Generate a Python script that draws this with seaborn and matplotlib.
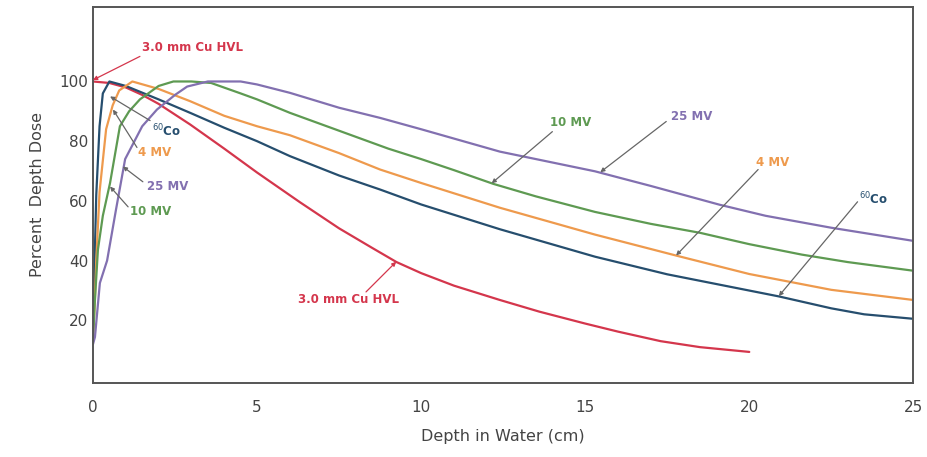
import seaborn as sns
import pandas as pd
import matplotlib.pyplot as plt

# depth (cm) / percent depth dose
depth_hvl = [0, 0.5, 1, 1.5, 2, 2.96, 4, 5, 6.3, 7.5, 8.5, 9.25, 10, 11, 12.4, 13.6, 15, 16, 17.3, 18.5, 20]
pdd_hvl = [100, 99.5, 98, 95.5, 92.5, 85.6, 77.5, 69.5, 59.6, 50.8, 44.3, 39.5, 35.8, 31.6, 26.8, 22.9, 18.9, 16.2, 13, 11, 9.4]

depth_co = [0, 0.05, 0.1, 0.2, 0.3, 0.5, 1, 2, 2.96, 4, 5, 6, 7.5, 8.75, 10, 12.4, 15.3, 17.5, 20.9, 22.5, 23.5, 25]
pdd_co = [18, 40, 62, 85, 96, 100, 98.5, 94, 89.5, 84.5, 80, 75, 68.5, 63.8, 58.8, 50.5, 41.3, 35.4, 28, 24, 22, 20.5]

depth_4mv = [0, 0.05, 0.1, 0.2, 0.4, 0.6, 0.8, 1.2, 2, 2.96, 4, 5, 6, 7.5, 8.75, 10, 12.4, 15.3, 17.8, 20, 22.5, 25]
pdd_4mv = [13, 25, 40, 63, 84, 92, 97, 100, 97.5, 93.4, 88.5, 85, 82, 76, 70.5, 66, 57.7, 48.7, 41.6, 35.5, 30.2, 26.8]

depth_10mv = [0, 0.05, 0.15, 0.3, 0.52, 0.82, 1.1, 1.43, 2, 2.45, 3, 3.6, 4.5, 5, 6, 7.5, 9, 10, 11, 12.2, 13.5, 15.3, 17, 18.5, 20, 21.6, 23, 25]
pdd_10mv = [13, 25, 43.6, 55, 66, 85, 90, 94, 98.5, 100, 100, 99.5, 96, 94, 89.5, 83.5, 77.5, 74, 70.3, 65.7, 61.5, 56.3, 52.3, 49.3, 45.5, 42, 39.5, 36.6]

depth_25mv = [0, 0.06, 0.21, 0.43, 0.7, 0.98, 1.5, 1.95, 2.5, 2.87, 3.5, 4.5, 5, 6, 7.5, 8.75, 10, 12.4, 15.3, 17, 19.1, 20.5, 22.5, 25]
pdd_25mv = [12, 14.4, 32.5, 40, 57, 74, 85, 90.6, 95.5, 98.3, 100, 100, 99, 96.2, 91.2, 87.8, 84, 76.5, 69.9, 65, 58.7, 55, 51, 46.6]

beams = ["3.0 mm Cu HVL", "60Co", "4 MV", "10 MV", "25 MV"]
colors = {
    "3.0 mm Cu HVL": "#d4364c",
    "60Co": "#264e6e",
    "4 MV": "#ee9a4d",
    "10 MV": "#5e9a52",
    "25 MV": "#8270b0",
}

frames = []
for name, d, p in zip(beams,
                      [depth_hvl, depth_co, depth_4mv, depth_10mv, depth_25mv],
                      [pdd_hvl, pdd_co, pdd_4mv, pdd_10mv, pdd_25mv]):
    frames.append(pd.DataFrame({"depth": d, "pdd": p, "beam": name}))
df = pd.concat(frames, ignore_index=True)

sns.set_style("white")
plt.rcParams['font.family'] = ['DejaVu Sans']

fig = plt.figure(figsize=(9.28, 4.57), dpi=100)
ax = fig.add_axes([0.1002, 0.162, 0.884, 0.823])

sns.lineplot(data=df, x="depth", y="pdd", hue="beam", palette=colors,
             sort=False, estimator=None, linewidth=1.6, legend=False, ax=ax)

ax.set_xlim(0, 25)
ax.set_ylim(-1, 125)
ax.set_xticks([0, 5, 10, 15, 20, 25])
ax.set_yticks([20, 40, 60, 80, 100])
ax.tick_params(direction='in', length=9, width=1.2, colors='#555',
               labelcolor='#444', labelsize=11)
ax.tick_params(axis='x', pad=12)
for s in ax.spines.values():
    s.set_color('#555')
    s.set_linewidth(1.4)

ax.set_xlabel("Depth in Water (cm)", fontsize=11.5, color='#444', labelpad=10)
ax.set_ylabel("Percent  Depth Dose", fontsize=11.5, color='#444', labelpad=10)

# labels with pointer lines: (text, text pos, curve point, colour key, line start)
labels = [
    ("3.0 mm Cu HVL", (1.5, 111.4), (0.0, 100.5), "3.0 mm Cu HVL", (1.43, 108.4)),
    (r"$^{60}$Co", (1.8, 83.5), (0.52, 95.0), "60Co", (1.74, 86.9)),
    ("4 MV", (1.37, 76.2), (0.61, 90.6), "4 MV", (1.34, 77.9)),
    ("25 MV", (1.65, 64.8), (0.91, 71.5), "25 MV", (1.52, 66.4)),
    ("10 MV", (1.13, 56.4), (0.52, 64.8), "10 MV", (1.07, 58.0)),
    ("10 MV", (13.93, 86.2), (12.15, 65.9), "10 MV", (14.0, 83.2)),
    ("25 MV", (17.6, 88.3), (15.46, 69.6), "25 MV", (17.47, 86.6)),
    ("4 MV", (20.2, 72.8), (17.77, 41.7), "4 MV", (20.27, 70.5)),
    (r"$^{60}$Co", (23.35, 60.5), (20.9, 28.1), "60Co", (23.3, 59.7)),
    ("3.0 mm Cu HVL", (6.25, 26.8), (9.24, 39.6), "3.0 mm Cu HVL", (8.32, 29.5)),
]
for txt, tpos, tip, key, start in labels:
    ax.text(tpos[0], tpos[1], txt, color=colors[key], fontsize=8.5,
            fontweight='bold', va='center', ha='left')
    lc = colors[key] if key == "3.0 mm Cu HVL" else '#666'
    ax.annotate("", xy=tip, xytext=start,
                arrowprops=dict(arrowstyle='-|>', color=lc, lw=0.9,
                                mutation_scale=6, shrinkA=0, shrinkB=0))

plt.savefig("out.png", dpi=100)
